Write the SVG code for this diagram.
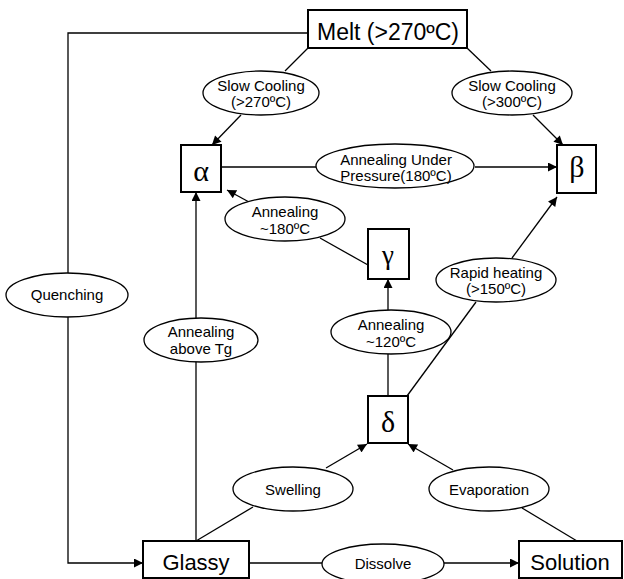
<svg xmlns="http://www.w3.org/2000/svg" width="624" height="579" viewBox="0 0 624 579">
<style>
.c{fill:none;stroke:#000;stroke-width:1.3}
.a{marker-end:url(#ah)}
.box{fill:#fff;stroke:#000;stroke-width:2}
.el{fill:#fff;stroke:#000;stroke-width:1.3}
.t{font-family:"Liberation Sans",Arial,sans-serif;font-size:15px;text-anchor:middle;fill:#000}
.bt{font-family:"Liberation Sans",Arial,sans-serif;font-size:22px;text-anchor:middle;fill:#000}
.g{font-family:"Liberation Serif","Times New Roman",serif;font-size:30px;text-anchor:middle;fill:#000}
</style>
<defs>
<marker id="ah" viewBox="0 0 10 10" refX="10" refY="5" markerWidth="10" markerHeight="9" markerUnits="userSpaceOnUse" orient="auto"><path d="M0,0 L10,5 L0,10 z" fill="#000"/></marker>
</defs>
<g id="connectors">
<path class="c a" d="M308,33 H68 V563 H143"/>
<path class="c" d="M308,48 L285,71"/>
<path class="c a" d="M241,115 L212,145"/>
<path class="c" d="M467,48 L491,71"/>
<path class="c a" d="M533,115 L563,145"/>
<path class="c" d="M221,167 H316"/>
<path class="c a" d="M475,167 H557"/>
<path class="c a" d="M249,202 L227,190"/>
<path class="c" d="M320,238 L368,265"/>
<path class="c a" d="M388,310 V279"/>
<path class="c" d="M388,396 V354"/>
<path class="c" d="M407,396 L476,302"/>
<path class="c a" d="M512,258 L557,197"/>
<path class="c a" d="M196,541 V192"/>
<path class="c" d="M196,541 L253,507"/>
<path class="c a" d="M326,468 L367,444"/>
<path class="c a" d="M453,470 L408,444"/>
<path class="c" d="M522,508 L577,541"/>
<path class="c" d="M249,563 H322"/>
<path class="c a" d="M444,563 H519"/>
</g>
<g id="melt"><rect class="box" x="308" y="10" width="159" height="38"/><text class="bt" x="388" y="40" style="font-size:23px">Melt (&gt;270ºC)</text></g>
<g id="alpha"><rect class="box" x="181" y="145" width="40" height="47"/><text class="g" x="201" y="181">α</text></g>
<g id="beta"><rect class="box" x="557" y="145" width="39" height="48"/><text class="g" x="577" y="177">β</text></g>
<g id="gamma"><rect class="box" x="368" y="229" width="41" height="50"/><text class="g" x="388" y="264" style="font-size:27px">γ</text></g>
<g id="delta"><rect class="box" x="368" y="396" width="40" height="47"/><text class="g" x="388" y="432">δ</text></g>
<g id="glassy"><rect class="box" x="143" y="541" width="106" height="37"/><text class="bt" x="196" y="570">Glassy</text></g>
<g id="solution"><rect class="box" x="519" y="541" width="103" height="37"/><text class="bt" x="570" y="570">Solution</text></g>
<g id="e-slow270"><ellipse class="el" cx="261" cy="93" rx="58" ry="22"/><text class="t" x="261" y="91">Slow Cooling</text><text class="t" x="261" y="107">(&gt;270ºC)</text></g>
<g id="e-slow300"><ellipse class="el" cx="512" cy="93" rx="60" ry="22"/><text class="t" x="512" y="91">Slow Cooling</text><text class="t" x="512" y="107">(&gt;300ºC)</text></g>
<g id="e-pressure"><ellipse class="el" cx="395" cy="166" rx="79" ry="22"/><text class="t" x="396" y="165">Annealing Under</text><text class="t" x="396" y="181">Pressure(180ºC)</text></g>
<g id="e-ann180"><ellipse class="el" cx="285" cy="219" rx="60" ry="22"/><text class="t" x="285" y="217">Annealing</text><text class="t" x="285" y="234">~180ºC</text></g>
<g id="e-ann120"><ellipse class="el" cx="391" cy="332" rx="60" ry="22"/><text class="t" x="391" y="330">Annealing</text><text class="t" x="391" y="347">~120ºC</text></g>
<g id="e-rapid"><ellipse class="el" cx="496" cy="280" rx="60" ry="22"/><text class="t" x="496" y="278">Rapid heating</text><text class="t" x="496" y="294">(&gt;150ºC)</text></g>
<g id="e-abovetg"><ellipse class="el" cx="201" cy="340" rx="57" ry="22"/><text class="t" x="201" y="337">Annealing</text><text class="t" x="201" y="354">above Tg</text></g>
<g id="e-quench"><ellipse class="el" cx="67" cy="295" rx="61" ry="22"/><text class="t" x="67" y="300">Quenching</text></g>
<g id="e-swell"><ellipse class="el" cx="293" cy="489" rx="60" ry="22"/><text class="t" x="293" y="495">Swelling</text></g>
<g id="e-evap"><ellipse class="el" cx="489" cy="489" rx="60" ry="22"/><text class="t" x="489" y="495">Evaporation</text></g>
<g id="e-dissolve"><ellipse class="el" cx="383" cy="564" rx="61" ry="20"/><text class="t" x="383" y="569">Dissolve</text></g>
</svg>
